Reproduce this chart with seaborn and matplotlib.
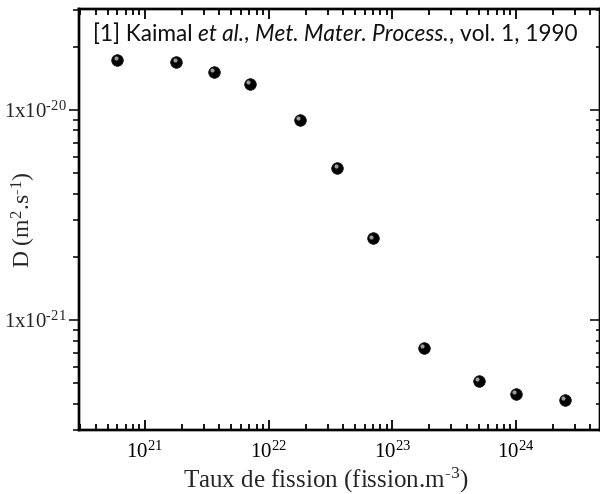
import numpy as np
import pandas as pd
import seaborn as sns
import matplotlib
matplotlib.use('Agg')
import matplotlib.pyplot as plt
from matplotlib.transforms import offset_copy
from matplotlib.ticker import LogLocator, NullFormatter, FixedLocator, FixedFormatter

# fission rate (fission.m-3) and diffusion coefficient D (m2.s-1)
fission_rate = [6.0e20, 1.8e21, 3.6e21, 7.1e21, 1.8e22, 3.6e22, 7.0e22,
                1.8e23, 5.0e23, 1.0e24, 2.5e24]
diffusion = [1.73e-20, 1.69e-20, 1.52e-20, 1.33e-20, 8.96e-21, 5.3e-21,
             2.45e-21, 7.35e-22, 5.13e-22, 4.45e-22, 4.16e-22]

x_ticks = [1e21, 1e22, 1e23, 1e24]
x_labels = [r'$10^{21}$', r'$10^{22}$', r'$10^{23}$', r'$10^{24}$']
y_ticks = [1e-21, 1e-20]
y_labels = ['$1x10^{\u201021}$', '$1x10^{\u201020}$']

ref_parts = [('[1] Kaimal ', 'normal'), ('et al.', 'italic'), (', ', 'normal'),
             ('Met. Mater. Process.', 'italic'), (', vol. 1, 1990', 'normal')]

df = pd.DataFrame({'rate': fission_rate, 'D': diffusion})

sns.set_style('ticks')
plt.rcParams['font.family'] = ['Liberation Serif', 'DejaVu Serif']
plt.rcParams['mathtext.default'] = 'regular'

fig = plt.figure(figsize=(6, 4.94), dpi=100)
ax = fig.add_axes([79 / 600, 1 - 430 / 494, 521 / 600, 421 / 494])
ax.set(xscale='log', yscale='log')
ax.set_xlim(2.93e20, 4.8e24)
ax.set_ylim(3.0e-22, 3.03e-20)

sns.scatterplot(data=df, x='rate', y='D', ax=ax, color='black', s=70,
                edgecolor='#111111', linewidth=0.5, zorder=3)
hl = offset_copy(ax.transData, fig=fig, x=-1.8, y=1.8, units='dots')
sns.scatterplot(data=df, x='rate', y='D', ax=ax, color='#9a9a9a', s=9,
                linewidth=0, transform=hl, zorder=4)

ax.xaxis.set_major_locator(FixedLocator(x_ticks))
ax.xaxis.set_major_formatter(FixedFormatter(x_labels))
ax.xaxis.set_minor_locator(LogLocator(base=10, subs=np.arange(2, 10)))
ax.xaxis.set_minor_formatter(NullFormatter())
ax.yaxis.set_major_locator(FixedLocator(y_ticks))
ax.yaxis.set_major_formatter(FixedFormatter(y_labels))
ax.yaxis.set_minor_locator(LogLocator(base=10, subs=np.arange(2, 10)))
ax.yaxis.set_minor_formatter(NullFormatter())

ax.tick_params(axis='x', which='both', direction='in', top=True, bottom=True,
               width=1.3, labelsize=15, pad=8, colors='black')
ax.tick_params(axis='x', which='major', length=7)
ax.tick_params(axis='x', which='minor', length=4)
ax.tick_params(axis='y', which='both', direction='out', left=True, right=False,
               width=1.3, labelsize=15, pad=2)
ax.tick_params(axis='y', which='major', length=7)
ax.tick_params(axis='y', which='minor', length=4)

# right side ticks point inwards
twin = ax.twinx()
twin.set_yscale('log')
twin.set_ylim(ax.get_ylim())
twin.yaxis.set_major_locator(FixedLocator(y_ticks))
twin.yaxis.set_minor_locator(LogLocator(base=10, subs=np.arange(2, 10)))
twin.yaxis.set_major_formatter(NullFormatter())
twin.yaxis.set_minor_formatter(NullFormatter())
twin.tick_params(axis='y', which='both', direction='in', width=1.3)
twin.tick_params(axis='y', which='major', length=7)
twin.tick_params(axis='y', which='minor', length=3)

for a in (ax, twin):
    for sp in a.spines.values():
        sp.set_linewidth(1.7)
        sp.set_color('black')
        sp.set_visible(True)

ax.set_xlabel('Taux de fission (fission.m$^{\u20103}$)', fontsize=18)
ax.xaxis.set_label_coords(0.474, -0.085)
ax.set_ylabel('D (m$^{2}$.s$^{\u20101}$)', fontsize=17)
ax.yaxis.set_label_coords(-0.079, 0.5)

# reference line, normal and italic pieces chained one after another
prev = ax.text(0.027, 0.914, ref_parts[0][0], transform=ax.transAxes,
               ha='left', va='bottom', fontsize=16.3,
               family=['Lato', 'DejaVu Sans'], color='#111111')
for txt, style in ref_parts[1:]:
    prev = ax.annotate(txt, xy=(1, 0), xycoords=prev, ha='left', va='bottom',
                       fontsize=16.3, fontstyle=style,
                       family=['Lato', 'DejaVu Sans'], color='#111111')

fig.savefig('out.png', dpi=100)
